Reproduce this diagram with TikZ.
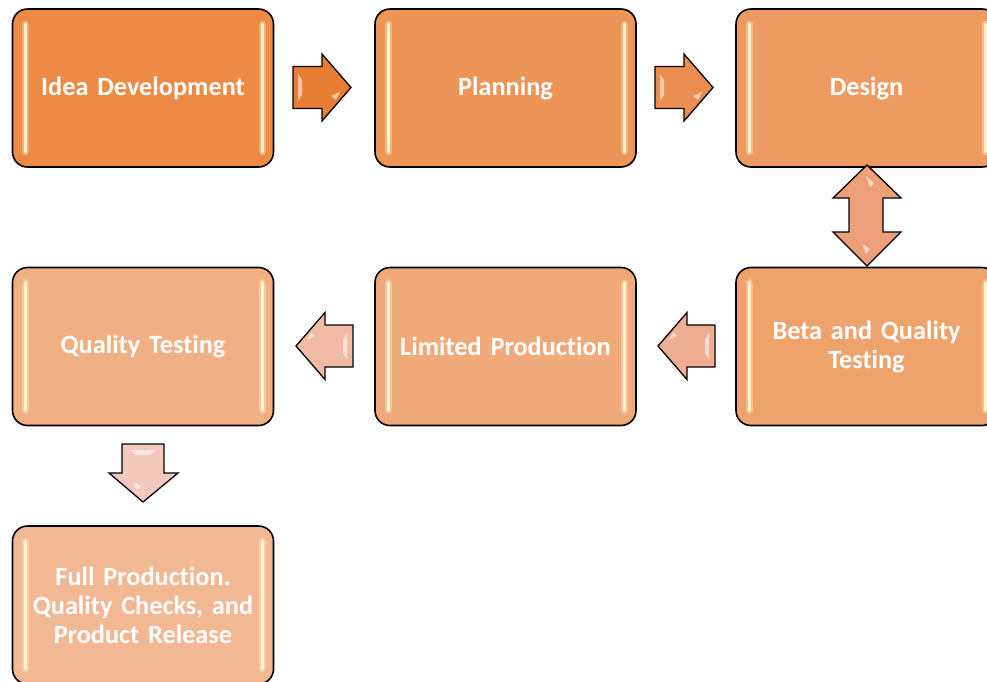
\documentclass[tikz,border=0pt]{standalone}
\usepackage{fontspec}
\setmainfont{Carlito}[Ligatures=NoCommon, WordSpace=0.7]
\usetikzlibrary{calc}
\definecolor{cA}{HTML}{EC8A46}
\definecolor{cB}{HTML}{ED9457}
\definecolor{cC}{HTML}{EE9B62}
\definecolor{cD}{HTML}{EFA36C}
\definecolor{cE}{HTML}{F0A979}
\definecolor{cF}{HTML}{F1B084}
\definecolor{cG}{HTML}{F2B893}
\definecolor{aA}{HTML}{E87D35}
\definecolor{aB}{HTML}{EA8D50}
\definecolor{aC}{HTML}{ECA07A}
\definecolor{aD}{HTML}{EFAE92}
\definecolor{aE}{HTML}{F1BBA6}
\definecolor{aF}{HTML}{F4C8BC}
\definecolor{glowc}{HTML}{FFF3CF}
\begin{document}
\begin{tikzpicture}[x=1pt,y=-1pt,
  stagebox/.style={draw=black, line width=1.6pt, rounded corners=15pt,
    minimum width=261pt, minimum height=158pt, inner sep=0pt,
    text=white, font=\fontsize{26.3}{29}\selectfont\bfseries,
    align=center, text width=245pt},
  glow/.style={draw=glowc, line width=3pt, line cap=round},
  glowsoft/.style={draw=glowc, line width=7pt, line cap=round, opacity=0.35},
  blockarrow/.style={draw=black, line width=1.3pt, line join=miter},
  shine/.style={fill=white, opacity=0.55, draw=none}]
\useasboundingbox (0,0) rectangle (987,681);
\clip (0,0) rectangle (987,681);

% boxes
\node[stagebox, fill=cA] (idea)  at (143,88)  {Idea Development};
\node[stagebox, fill=cB] (plan)  at (505.5,88) {Planning};
\node[stagebox, fill=cC] (design) at (866.5,88) {Design};
\node[stagebox, fill=cD] (beta)  at (866.5,346.5) {Beta and Quality\\Testing};
\node[stagebox, fill=cE] (limited) at (505.5,346.5) {Limited Production};
\node[stagebox, fill=cF] (qtest) at (143,346.5) {Quality Testing};
\node[stagebox, fill=cG] (full)  at (143,605) {Full Production.\\Quality Checks, and\\Product Release};

% glow bars
\foreach \n in {idea,plan,design,beta,limited,qtest,full}{
  \draw[glowsoft] ($(\n.north west)+(14,16)$) -- ($(\n.south west)+(14,-16)$);
  \draw[glow] ($(\n.north west)+(14,16)$) -- ($(\n.south west)+(14,-16)$);
  \draw[glowsoft] ($(\n.north east)+(-12,16)$) -- ($(\n.south east)+(-12,-16)$);
  \draw[glow] ($(\n.north east)+(-12,16)$) -- ($(\n.south east)+(-12,-16)$);
}

% right arrow idea -> plan
\draw[blockarrow, fill=aA] (293,66.5) -- (322,66.5) -- (322,54) -- (351,87.5)
  -- (322,121) -- (322,108.5) -- (293,108.5) -- cycle;
\fill[shine] (298,74) -- (302,80) -- (302,95) -- (298,101) -- cycle;
\fill[shine] (331,96) -- (340,92) -- (336,100) -- cycle;
% right arrow plan -> design
\draw[blockarrow, fill=aB] (655,66.5) -- (684,66.5) -- (684,54) -- (713,87.5)
  -- (684,121) -- (684,108.5) -- (655,108.5) -- cycle;
\fill[shine] (660,74) -- (664,80) -- (664,95) -- (660,101) -- cycle;
\fill[shine] (693,96) -- (702,92) -- (698,100) -- cycle;

% double arrow design <-> beta
\draw[blockarrow, fill=aC] (867,165) -- (901,198) -- (883,198) -- (883,232)
  -- (901,232) -- (867,266) -- (833,232) -- (849,232) -- (849,198)
  -- (833,198) -- cycle;
\fill[shine] (866,176) -- (874,183) -- (870,187) -- cycle;
\fill[shine] (862,244) -- (870,249) -- (866,254) -- cycle;

% left arrow beta -> limited
\draw[blockarrow, fill=aD] (715,325) -- (687,325) -- (687,312.5) -- (658,346)
  -- (687,379.5) -- (687,367) -- (715,367) -- cycle;
\fill[shine] (709,333) -- (705,339) -- (705,353) -- (709,359) -- cycle;
\fill[shine] (677,336) -- (669,340) -- (673,332) -- cycle;

% left arrow limited -> qtest
\draw[blockarrow, fill=aE] (353,325) -- (325,325) -- (325,312.5) -- (296,346)
  -- (325,379.5) -- (325,367) -- (353,367) -- cycle;
\fill[shine] (347,333) -- (343,339) -- (343,353) -- (347,359) -- cycle;
\fill[shine] (315,336) -- (307,340) -- (311,332) -- cycle;

% down arrow qtest -> full
\draw[blockarrow, fill=aF] (122,444) -- (164,444) -- (164,473) -- (178,473)
  -- (143,502) -- (109,473) -- (122,473) -- cycle;
\fill[shine] (130,450) -- (156,450) -- (150,455) -- (136,455) -- cycle;
\fill[shine] (133,482) -- (137,490) -- (141,486) -- cycle;
\end{tikzpicture}
\end{document}
